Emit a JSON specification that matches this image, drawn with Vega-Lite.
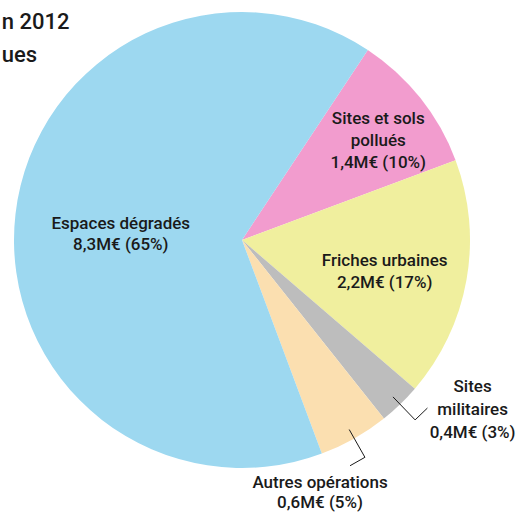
{
  "$schema": "https://vega.github.io/schema/vega-lite/v6.json",
  "width": 484,
  "height": 480,
  "autosize": {"type": "none"},
  "padding": {"left": 0, "top": 0, "right": 38, "bottom": 32},
  "background": "white",
  "config": {"view": {"stroke": null}, "font": "Roboto"},
  "data": {
    "values": [
      {"cat": "Sites et sols pollués", "label": "Sites et sols\npollués\n1,4M€ (10%)", "amount": 1.4, "pct": 10, "order": 1},
      {"cat": "Friches urbaines", "label": "Friches urbaines\n2,2M€ (17%)", "amount": 2.2, "pct": 17, "order": 2},
      {"cat": "Sites militaires", "label": "Sites\nmilitaires\n0,4M€ (3%)", "amount": 0.4, "pct": 3, "order": 3},
      {"cat": "Autres opérations", "label": "Autres opérations\n0,6M€ (5%)", "amount": 0.6, "pct": 5, "order": 4},
      {"cat": "Espaces dégradés", "label": "Espaces dégradés\n8,3M€ (65%)", "amount": 8.3, "pct": 65, "order": 5}
    ]
  },
  "layer": [
    {
      "mark": {"type": "arc", "outerRadius": 228},
      "encoding": {
        "theta": {"field": "pct", "type": "quantitative", "stack": true, "scale": {"range": [0.5847, 6.8679]}},
        "order": {"field": "order", "type": "quantitative"},
        "color": {
          "field": "cat",
          "type": "nominal",
          "scale": {
            "domain": ["Sites et sols pollués", "Friches urbaines", "Sites militaires", "Autres opérations", "Espaces dégradés"],
            "range": ["#f29cce", "#f0ef9e", "#bdbdbd", "#fbdfb0", "#9dd8f0"]
          },
          "legend": null
        }
      }
    },
    {
      "mark": {"type": "text", "fontSize": 17, "fontWeight": 500, "lineBreak": "\n", "lineHeight": 22, "color": "#1a1a1a", "align": "center", "baseline": "middle", "dx": 4, "dy": -16, "radius": 169},
      "encoding": {
        "theta": {"field": "pct", "type": "quantitative", "stack": true},
        "order": {"field": "order", "type": "quantitative"},
        "text": {"condition": {"test": "datum.order === 1", "field": "label"}, "value": ""}
      }
    },
    {
      "mark": {"type": "text", "fontSize": 17, "fontWeight": 500, "lineBreak": "\n", "lineHeight": 22, "color": "#1a1a1a", "align": "center", "baseline": "middle", "dx": -2, "dy": -5, "radius": 147},
      "encoding": {
        "theta": {"field": "pct", "type": "quantitative", "stack": true},
        "order": {"field": "order", "type": "quantitative"},
        "text": {"condition": {"test": "datum.order === 2", "field": "label"}, "value": ""}
      }
    },
    {
      "mark": {"type": "text", "fontSize": 17, "fontWeight": 500, "lineBreak": "\n", "lineHeight": 21, "color": "#1a1a1a", "align": "center", "baseline": "middle", "dx": 0, "dy": -2, "radius": 122},
      "encoding": {
        "theta": {"field": "pct", "type": "quantitative", "stack": true},
        "order": {"field": "order", "type": "quantitative"},
        "text": {"condition": {"test": "datum.order === 5", "field": "label"}, "value": ""}
      }
    },
    {
      "mark": {"type": "text", "fontSize": 17, "fontWeight": 500, "lineBreak": "\n", "lineHeight": 23, "color": "#1a1a1a", "align": "center", "baseline": "middle", "dx": 33, "dy": -58, "radius": 285},
      "encoding": {
        "theta": {"field": "pct", "type": "quantitative", "stack": true},
        "order": {"field": "order", "type": "quantitative"},
        "text": {"condition": {"test": "datum.order === 3", "field": "label"}, "value": ""}
      }
    },
    {
      "mark": {"type": "text", "fontSize": 17, "fontWeight": 500, "lineBreak": "\n", "lineHeight": 20, "color": "#1a1a1a", "align": "center", "baseline": "middle", "dx": -50, "dy": 17, "radius": 260},
      "encoding": {
        "theta": {"field": "pct", "type": "quantitative", "stack": true},
        "order": {"field": "order", "type": "quantitative"},
        "text": {"condition": {"test": "datum.order === 4", "field": "label"}, "value": ""}
      }
    },
    {
      "transform": [
        {"window": [{"op": "sum", "field": "pct", "as": "cum"}], "sort": [{"field": "order"}], "frame": [null, 0]},
        {"joinaggregate": [{"op": "sum", "field": "pct", "as": "total"}]},
        {"filter": "datum.order === 3 || datum.order === 4"},
        {"calculate": "0.5847 + 2 * PI * (datum.cum - datum.pct / 2) / datum.total", "as": "a"},
        {"calculate": "datum.order === 3 ? -1 : 1", "as": "s"},
        {"calculate": "0.955 * sin(datum.a)", "as": "x0"},
        {"calculate": "0.955 * cos(datum.a)", "as": "y0"},
        {"calculate": "1.095 * sin(datum.a)", "as": "x1"},
        {"calculate": "1.095 * cos(datum.a)", "as": "y1"},
        {"calculate": "datum.x1 + datum.s * 0.075 * cos(datum.a)", "as": "x2"},
        {"calculate": "datum.y1 - datum.s * 0.075 * sin(datum.a)", "as": "y2"}
      ],
      "layer": [
        {
          "mark": {"type": "rule", "color": "#1a1a1a", "strokeWidth": 1},
          "encoding": {
            "x": {"field": "x0", "type": "quantitative", "scale": {"domain": [-1.0614, 1.0614], "nice": false, "zero": false}, "axis": null},
            "y": {"field": "y0", "type": "quantitative", "scale": {"domain": [-1.0526, 1.0526], "nice": false, "zero": false}, "axis": null},
            "x2": {"field": "x1"},
            "y2": {"field": "y1"}
          }
        },
        {
          "mark": {"type": "rule", "color": "#1a1a1a", "strokeWidth": 1},
          "encoding": {
            "x": {"field": "x1", "type": "quantitative"},
            "y": {"field": "y1", "type": "quantitative"},
            "x2": {"field": "x2"},
            "y2": {"field": "y2"}
          }
        }
      ]
    },
    {
      "data": {"values": [{"line": "n 2012", "v": 0.9254}, {"line": "ues", "v": 0.7807}]},
      "mark": {"type": "text", "align": "left", "baseline": "alphabetic", "fontSize": 22, "fontWeight": 500, "font": "Roboto", "color": "#1a1a1a"},
      "encoding": {
        "x": {"datum": -1.054, "type": "quantitative"},
        "y": {"field": "v", "type": "quantitative"},
        "text": {"field": "line"}
      }
    }
  ]
}
